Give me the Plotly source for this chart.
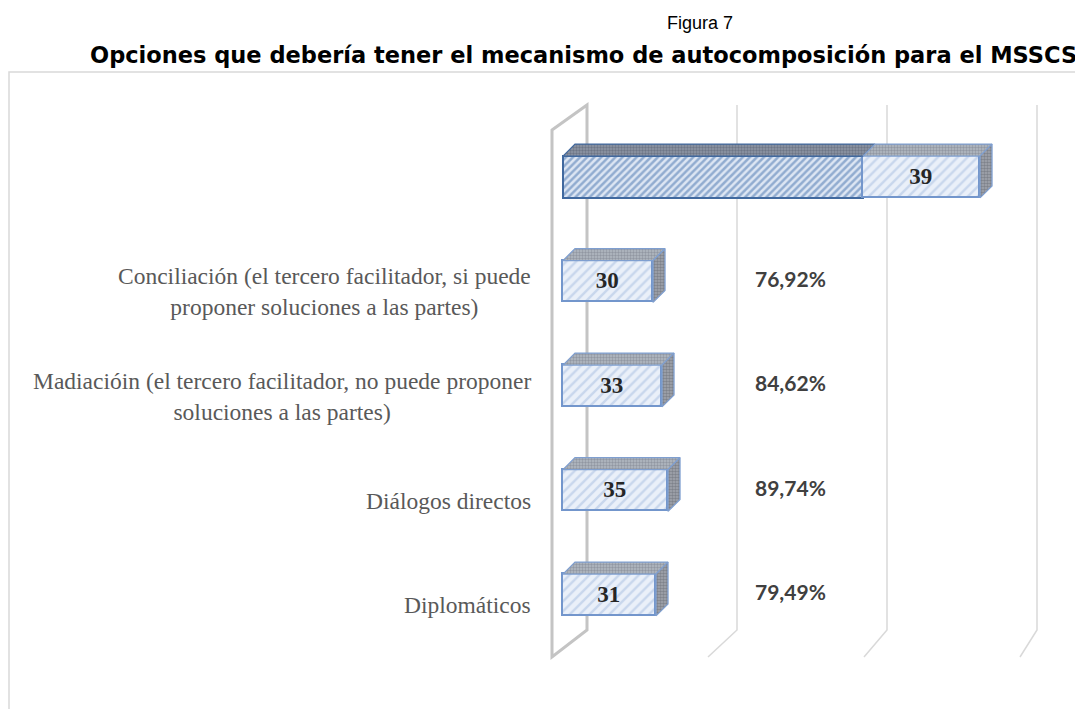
import plotly.graph_objects as go

# ---------------- data ----------------
categories = ["Diplomáticos", "Diálogos directos",
              "Madiacióin (el tercero facilitador, no puede proponer<br>soluciones a las partes)",
              "Conciliación (el tercero facilitador, si puede<br>proponer soluciones a las partes)",
              ""]
counts = [31, 35, 33, 30, 39]          # light series (frequency)
total_pct = [0, 0, 0, 0, 100]          # dark series (only in the total row)
pct_labels = [79.49, 89.74, 84.62, 76.92]
grid_ticks = [0, 50, 100, 150]

# ---------------- geometry (reference-page pixels) ----------------
PAGE_W, PAGE_H = 1083, 709
OFF = 8                         # default body margin of the html page
W, H = PAGE_W - OFF, PAGE_H - OFF
PX_PER_X = 3.0
X0_PX = 563
Y0_PX = 595
PX_PER_Y = 104.5
xr = [(OFF - X0_PX) / PX_PER_X, (PAGE_W - X0_PX) / PX_PER_X]
yr = [(Y0_PX - PAGE_H) / PX_PER_Y, (Y0_PX - OFF) / PX_PER_Y]

def ypx(p):
    return (Y0_PX - p) / PX_PER_Y

def px_x(p):
    return (p - OFF) / W

def px_y(p):
    return 1 - (p - OFF) / H

bar_w = 0.40
half = bar_w / 2
dx = 12 / PX_PER_X
dy = 12 / PX_PER_Y
ypos = list(range(len(categories)))

fig = go.Figure()

# front faces
fig.add_trace(go.Bar(
    y=ypos, x=total_pct, orientation="h", width=bar_w,
    marker=dict(color="#dfe7f3",
                line=dict(color="#41699f", width=2),
                pattern=dict(shape="/", bgcolor="#dde6f3", fgcolor="#4672ae",
                             size=5, solidity=0.5)),
    showlegend=False, hoverinfo="skip"))
fig.add_trace(go.Bar(
    y=ypos, x=counts, orientation="h", width=bar_w,
    marker=dict(color="#e8eef8",
                line=dict(color="#7396cc", width=1.6),
                pattern=dict(shape="/", bgcolor="#eaf0f9", fgcolor="#a6bde0",
                             size=7, solidity=0.35)),
    text=[str(c) for c in counts], textposition="inside",
    insidetextanchor="middle",
    textfont=dict(family="Liberation Serif", size=23, color="#262626", weight="bold"),
    showlegend=False, hoverinfo="skip"))

# 3-D top and side faces built from the same values
for i, (d, c) in enumerate(zip(total_pct, counts)):
    segs = []
    if d > 0:
        segs.append((0, d, "#8f97a6", "#4d5566", "#41699f"))
    segs.append((d, d + c, "#b4bac4", "#6e7480", "#7f9fd0"))
    yt = ypos[i] + half
    yb = ypos[i] - half
    for (a, b, bg, fg, ln) in segs:
        fig.add_trace(go.Scatter(
            x=[a, b, b + dx, a + dx, a], y=[yt, yt, yt + dy, yt + dy, yt],
            mode="lines", fill="toself", fillcolor=bg,
            fillpattern=dict(shape=".", bgcolor=bg, fgcolor=fg, size=3, solidity=0.5),
            line=dict(color=ln, width=1.3), showlegend=False, hoverinfo="skip"))
    e = d + c
    fig.add_trace(go.Scatter(
        x=[e, e, e + dx, e + dx, e], y=[yb, yt, yt + dy, yb + dy, yb],
        mode="lines", fill="toself", fillcolor="#9a9ea8",
        fillpattern=dict(shape=".", bgcolor="#a3a7b0", fgcolor="#5a5e66", size=3, solidity=0.55),
        line=dict(color="#7f9fd0", width=1.3), showlegend=False, hoverinfo="skip"))

# percentage labels
fig.add_trace(go.Scatter(
    x=[64] * len(pct_labels), y=ypos[:len(pct_labels)],
    mode="text", text=[f"{p:.2f}%".replace(".", ",") for p in pct_labels],
    textposition="middle right",
    textfont=dict(family="Lato", size=21, color="#404040", weight="bold"),
    showlegend=False, hoverinfo="skip"))

# category labels
for i, cat in enumerate(categories):
    if not cat:
        continue
    fig.add_annotation(x=-10, y=ypos[i] - 0.1, xref="x", yref="y", text=cat,
                       showarrow=False, xanchor="right", yanchor="middle", align="center",
                       font=dict(family="Liberation Serif", size=23.5, color="#595959"))

# gridlines / wall (3-D)
back_off = 24 / PX_PER_X
front_off = -11 / PX_PER_X
yt_back, yb_back, yb_front, yt_front = ypx(105), ypx(630), ypx(657), ypx(130)
shapes = []
for t in grid_ticks:
    xb = t + back_off
    xf = t * 1.04 + front_off
    if t == 0:
        path = (f"M {xf},{yt_front} L {xb},{yt_back} L {xb},{yb_back} "
                f"L {xf},{yb_front} Z")
        shapes.append(dict(type="path", path=path, xref="x", yref="y", layer="below",
                           line=dict(color="#c4c4c4", width=3)))
    else:
        path = f"M {xb},{yt_back} L {xb},{yb_back} L {xf},{yb_front}"
        shapes.append(dict(type="path", path=path, xref="x", yref="y", layer="below",
                           line=dict(color="#d9d9d9", width=1.5)))
# chart border
shapes.append(dict(type="rect", xref="paper", yref="paper",
                   x0=px_x(9), x1=px_x(1079), y0=-0.05, y1=px_y(72),
                   line=dict(color="#d9d9d9", width=1.5), layer="below"))

fig.add_annotation(x=px_x(700), y=px_y(23), xref="paper", yref="paper",
                   xanchor="center", yanchor="middle",
                   text="Figura 7", showarrow=False,
                   font=dict(family="Liberation Sans", size=18, color="#000000"))
fig.add_annotation(x=px_x(583), y=px_y(55), xref="paper", yref="paper",
                   xanchor="center", yanchor="middle",
                   text="<b>Opciones que debería tener el mecanismo de autocomposición para el MSSCS</b>",
                   showarrow=False,
                   font=dict(family="DejaVu Sans", size=22.5, color="#000000"))

fig.update_layout(
    width=W, height=H, barmode="stack", bargap=0,
    margin=dict(l=0, r=0, t=0, b=0),
    paper_bgcolor="white", plot_bgcolor="white",
    shapes=shapes,
    xaxis=dict(range=xr, visible=False, fixedrange=True),
    yaxis=dict(range=yr, visible=False, fixedrange=True),
)
fig.write_html("out.html")
